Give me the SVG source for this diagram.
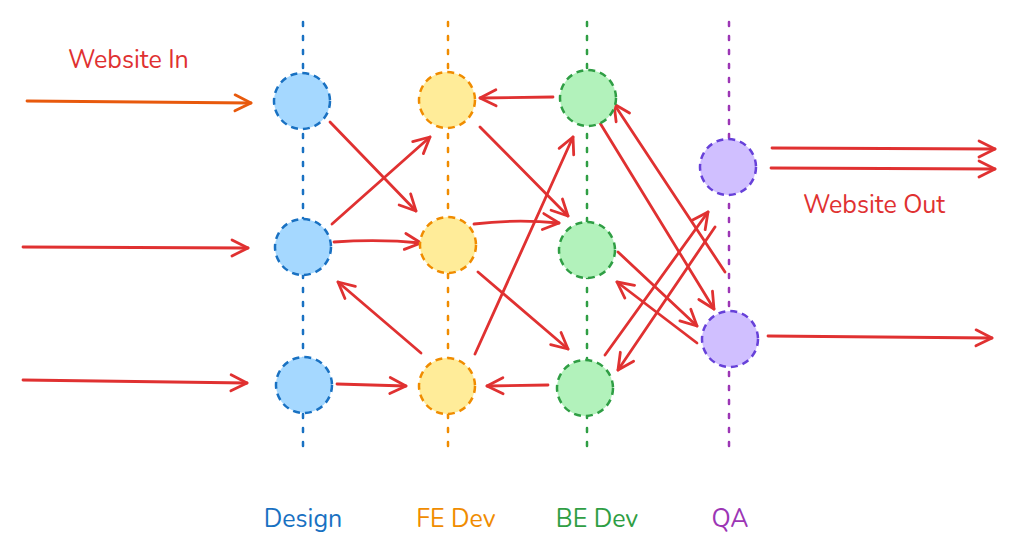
<svg xmlns="http://www.w3.org/2000/svg" width="1024" height="560" viewBox="0 0 1024 560">
<defs>
<marker id="ah" markerUnits="userSpaceOnUse" markerWidth="30" markerHeight="30" viewBox="-20 -15 30 30" refX="0" refY="0" orient="auto">
<path d="M-16,-8 L0,0 L-16,8" fill="none" stroke="#e03131" stroke-width="2.8" stroke-linecap="round" stroke-linejoin="round"/>
</marker>
<marker id="aho" markerUnits="userSpaceOnUse" markerWidth="30" markerHeight="30" viewBox="-20 -15 30 30" refX="0" refY="0" orient="auto">
<path d="M-16,-8 L0,0 L-16,8" fill="none" stroke="#e8590c" stroke-width="2.8" stroke-linecap="round" stroke-linejoin="round"/>
</marker>
</defs>
<style>
.lane{stroke-width:2.5;stroke-dasharray:4 10;stroke-linecap:round;fill:none}
.node{stroke-width:2.5;stroke-dasharray:7 5}
.d{stroke:#1971c2;fill:#a5d8ff}
.f{stroke:#f08c00;fill:#ffec99}
.b{stroke:#2f9e44;fill:#b2f2bb}
.q{stroke:#6741d9;fill:#d0bfff}
.c line,.c path{stroke:#e03131;stroke-width:2.8;fill:none;stroke-linecap:round;marker-end:url(#ah)}
.t{font-family:"Nunito","Noto Sans","Liberation Sans",sans-serif;font-size:25px}
</style>
<rect width="1024" height="560" fill="#ffffff"/>
<g id="lanes">
<line class="lane" x1="303" y1="22" x2="303" y2="455" stroke="#1971c2"/>
<line class="lane" x1="448" y1="22" x2="448" y2="455" stroke="#f08c00"/>
<line class="lane" x1="587" y1="22" x2="587" y2="455" stroke="#2f9e44"/>
<line class="lane" x1="729" y1="22" x2="729" y2="455" stroke="#9c36b5"/>
</g>
<g class="c" id="connectors">
<line x1="27" y1="101" x2="251" y2="103" style="stroke:#e8590c;marker-end:url(#aho)"/>
<line x1="23" y1="247" x2="248" y2="248"/>
<line x1="23" y1="380" x2="247" y2="383"/>
<line x1="330" y1="122" x2="416" y2="211"/>
<line x1="332" y1="224" x2="430" y2="137"/>
<path d="M334,242 Q380,239 421,243"/>
<line x1="421" y1="353" x2="338" y2="282"/>
<line x1="337" y1="384" x2="406" y2="386"/>
<line x1="553" y1="97" x2="480" y2="98"/>
<line x1="480" y1="127" x2="568" y2="216"/>
<path d="M474,224 Q515,219 559,223"/>
<line x1="475" y1="354" x2="573" y2="137"/>
<line x1="478" y1="272" x2="568" y2="349"/>
<line x1="548" y1="385" x2="487" y2="386"/>
<line x1="600" y1="123" x2="714" y2="309"/>
<line x1="725" y1="272" x2="614" y2="104"/>
<line x1="605" y1="355" x2="708" y2="212"/>
<line x1="715" y1="227" x2="618" y2="370"/>
<line x1="618" y1="252" x2="697" y2="326"/>
<line x1="697" y1="343" x2="617" y2="282"/>
<line x1="772" y1="148" x2="995" y2="149"/>
<line x1="771" y1="168" x2="995" y2="169"/>
<line x1="768" y1="336" x2="992" y2="338"/>
</g>
<g id="design-top"><circle class="node d" cx="302" cy="101" r="28"/></g>
<g id="design-mid"><circle class="node d" cx="303" cy="247" r="28"/></g>
<g id="design-bot"><circle class="node d" cx="304" cy="385" r="28"/></g>
<g id="fe-top"><circle class="node f" cx="447" cy="100" r="28"/></g>
<g id="fe-mid"><circle class="node f" cx="448" cy="245" r="28"/></g>
<g id="fe-bot"><circle class="node f" cx="447" cy="386" r="28"/></g>
<g id="be-top"><circle class="node b" cx="588" cy="98" r="28"/></g>
<g id="be-mid"><circle class="node b" cx="587" cy="250" r="28"/></g>
<g id="be-bot"><circle class="node b" cx="585" cy="388" r="28"/></g>
<g id="qa-top"><circle class="node q" cx="728" cy="167" r="28"/></g>
<g id="qa-bot"><circle class="node q" cx="730" cy="339" r="28"/></g>
<g id="labels">
<text class="t" x="68" y="68" fill="#e03131">Website In</text>
<text class="t" x="803" y="213" fill="#e03131">Website Out</text>
<text class="t" x="303" y="527" fill="#1971c2" text-anchor="middle">Design</text>
<text class="t" x="456" y="527" fill="#f08c00" text-anchor="middle">FE Dev</text>
<text class="t" x="597" y="527" fill="#2f9e44" text-anchor="middle">BE Dev</text>
<text class="t" x="730" y="527" fill="#9c36b5" text-anchor="middle">QA</text>
</g>
</svg>
